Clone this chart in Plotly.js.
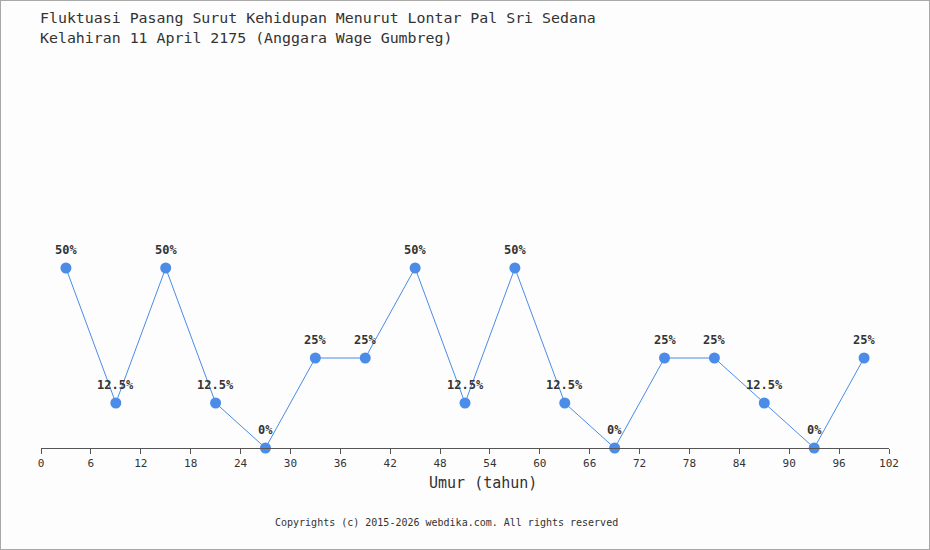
<!DOCTYPE html>
<html>
<head>
<meta charset="utf-8">
<script src="https://cdn.plot.ly/plotly-3.0.1.min.js"></script>
<style>
  html, body { margin: 0; padding: 0; background: #fdfdfd; }
  #wrap { position: relative; width: 930px; height: 550px; }
  #chart { width: 930px; height: 550px; }
  #frame { position: absolute; left: 0; top: 0; width: 930px; height: 550px; box-sizing: border-box; border: 1px solid #a8a8a8; pointer-events: none; }
</style>
</head>
<body>
<div id="wrap"><div id="chart"></div><div id="frame"></div></div>
<script>
const ages = [3, 9, 15, 21, 27, 33, 39, 45, 51, 57, 63, 69, 75, 81, 87, 93, 99];
const percents = [50, 12.5, 50, 12.5, 0, 25, 25, 50, 12.5, 50, 12.5, 0, 25, 25, 12.5, 0, 25];
const tickValues = [0, 6, 12, 18, 24, 30, 36, 42, 48, 54, 60, 66, 72, 78, 84, 90, 96, 102];
const titleLines = ["Fluktuasi Pasang Surut Kehidupan Menurut Lontar Pal Sri Sedana", "Kelahiran 11 April 2175 (Anggara Wage Gumbreg)"];
const xTitle = "Umur (tahun)";
const footer = "Copyrights (c) 2015-2026 webdika.com. All rights reserved";

const mono = "DejaVu Sans Mono, Liberation Mono, monospace";
const trace = {
  x: ages,
  y: percents,
  type: "scatter",
  mode: "lines+markers",
  line: { color: "#4a8ce8", width: 1 },
  marker: { color: "#4a8ce8", size: 11 },
  cliponaxis: false,
  hoverinfo: "x+y"
};
const labelAnns = ages.map((a, i) => ({
  x: a, y: percents[i], xref: "x", yref: "y",
  text: percents[i] + "%", showarrow: false,
  yshift: 18, xanchor: "center", yanchor: "middle",
  font: { family: mono, size: 12, color: "#333", weight: "bold" }
}));
const W = 848, H = 360;
const layout = {
  width: 930, height: 550,
  paper_bgcolor: "#fdfdfd", plot_bgcolor: "#fdfdfd",
  margin: { l: 41, r: 41, t: 88, b: 102 },
  showlegend: false,
  font: { family: mono, color: "#333" },
  xaxis: {
    range: [0, 102], tickvals: tickValues, ticktext: tickValues.map(String),
    showgrid: false, zeroline: false, showline: true, linecolor: "#555", linewidth: 1,
    ticks: "outside", ticklen: 5, tickcolor: "#555",
    tickfont: { family: mono, size: 11, color: "#333" },
    fixedrange: true
  },
  yaxis: { range: [0, 100], visible: false, showgrid: false, zeroline: false, fixedrange: true },
  annotations: labelAnns.concat([
    { text: titleLines[0], xref: "paper", yref: "paper", x: -3/W, y: 1 + (88-18)/H, xanchor: "left", yanchor: "middle", showarrow: false, font: { family: mono, size: 14.9, color: "#333" } },
    { text: titleLines[1], xref: "paper", yref: "paper", x: -3/W, y: 1 + (88-38)/H, xanchor: "left", yanchor: "middle", showarrow: false, font: { family: mono, size: 14.9, color: "#333" } },
    { text: xTitle, xref: "paper", yref: "paper", x: (483-41)/W, y: -(483-448)/H, xanchor: "center", yanchor: "middle", showarrow: false, font: { family: mono, size: 15, color: "#333" } },
    { text: footer, xref: "paper", yref: "paper", x: (446-41)/W, y: -(522-448)/H, xanchor: "center", yanchor: "middle", showarrow: false, font: { family: mono, size: 10, color: "#333" } }
  ])
};
Plotly.newPlot("chart", [trace], layout, { displayModeBar: false, staticPlot: true });
</script>
</body>
</html>
